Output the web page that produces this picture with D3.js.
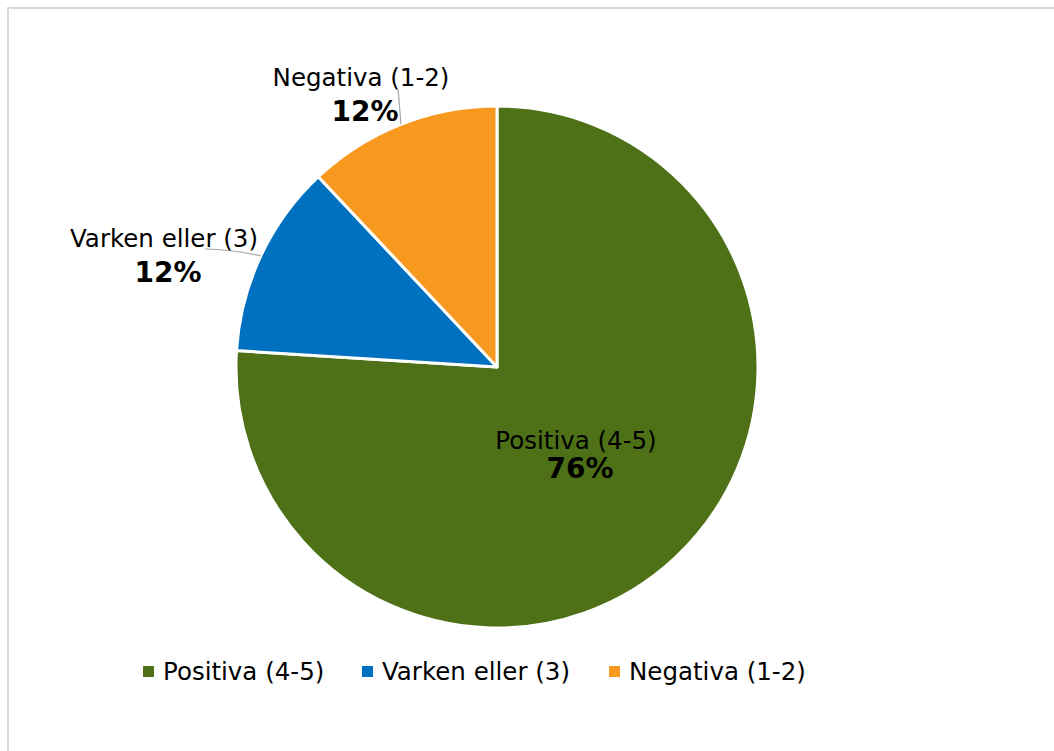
<!DOCTYPE html>
<html>
<head>
<meta charset="utf-8">
<script src="https://cdn.jsdelivr.net/npm/d3@7"></script>
<style>
  body { margin: 0; background: #fff; }
  svg text { font-family: "DejaVu Sans", sans-serif; fill: #000; }
</style>
</head>
<body>
<div id="chart"></div>
<script>
// data
const categories = ["Positiva (4-5)", "Varken eller (3)", "Negativa (1-2)"];
const shares = [76, 12, 12];
const colors = ["#4e7118", "#0070c0", "#f7991f"];

// label placement (offset from pie centre), chosen by hand like the original
const labelOffset = [
	{ dx: 79, dy: 82 },
	{ dx: -333, dy: -120 },
	{ dx: -136, dy: -281 }
];
const leaderEnd = [null, { dx: -292, dy: -118 }, { dx: -99, dy: -278 }];

const width = 1054, height = 751;
const cx = 497, cy = 367, radius = 261;

const svg = d3.select("#chart")
	.append("svg")
	.attr("width", width)
	.attr("height", height);

// chart area border
svg.append("rect")
	.attr("x", 8)
	.attr("y", 8)
	.attr("width", width + 10)
	.attr("height", height + 10)
	.attr("fill", "none")
	.attr("stroke", "#d9d9d9")
	.attr("stroke-width", 2);

const data = categories.map((c, i) => ({ name: c, value: shares[i], color: colors[i], i: i }));

const pie = d3.pie()
	.sort(null)
	.value(d => d.value);

const arc = d3.arc()
	.innerRadius(0)
	.outerRadius(radius);

const g = svg.append("g")
	.attr("transform", `translate(${cx}, ${cy})`);

const arcs = pie(data);

g.selectAll("path.slice")
	.data(arcs)
	.enter()
	.append("path")
	.attr("class", "slice")
	.attr("d", arc)
	.attr("fill", d => d.data.color)
	.attr("stroke", "#fff")
	.attr("stroke-width", 3)
	.attr("stroke-linejoin", "round");

// leader lines for the outside labels
arcs.forEach(function (d) {
	const end = leaderEnd[d.data.i];
	if (!end) return;
	const mid = (d.startAngle + d.endAngle) / 2;
	const x0 = Math.sin(mid) * radius, y0 = -Math.cos(mid) * radius;
	g.append("path")
		.attr("d", `M${x0},${y0}Q${(x0 + end.dx) / 2},${(y0 + end.dy) / 2 - 3} ${end.dx},${end.dy}`)
		.attr("fill", "none")
		.attr("stroke", "#a6a6a6")
		.attr("stroke-width", 1.2);
});

// data labels
arcs.forEach(function (d) {
	const off = labelOffset[d.data.i];
	const t = g.append("text")
		.attr("x", off.dx)
		.attr("y", off.dy)
		.attr("text-anchor", "middle");
	t.append("tspan")
		.attr("x", off.dx)
		.attr("font-size", "24.5px")
		.text(d.data.name);
	t.append("tspan")
		.attr("x", off.dx + 4)
		.attr("dy", d.data.i === 0 ? 29 : 35)
		.attr("font-size", "28px")
		.attr("font-weight", "bold")
		.text(d.data.value + "%");
});

// legend
const legendX = [143, 362, 609];
const legend = svg.append("g");
data.forEach(function (d, i) {
	legend.append("rect")
		.attr("x", legendX[i])
		.attr("y", 666)
		.attr("width", 11)
		.attr("height", 11)
		.attr("fill", d.color);
	legend.append("text")
		.attr("x", legendX[i] + 20)
		.attr("y", 680)
		.attr("font-size", "24.5px")
		.text(d.name);
});
</script>
</body>
</html>
